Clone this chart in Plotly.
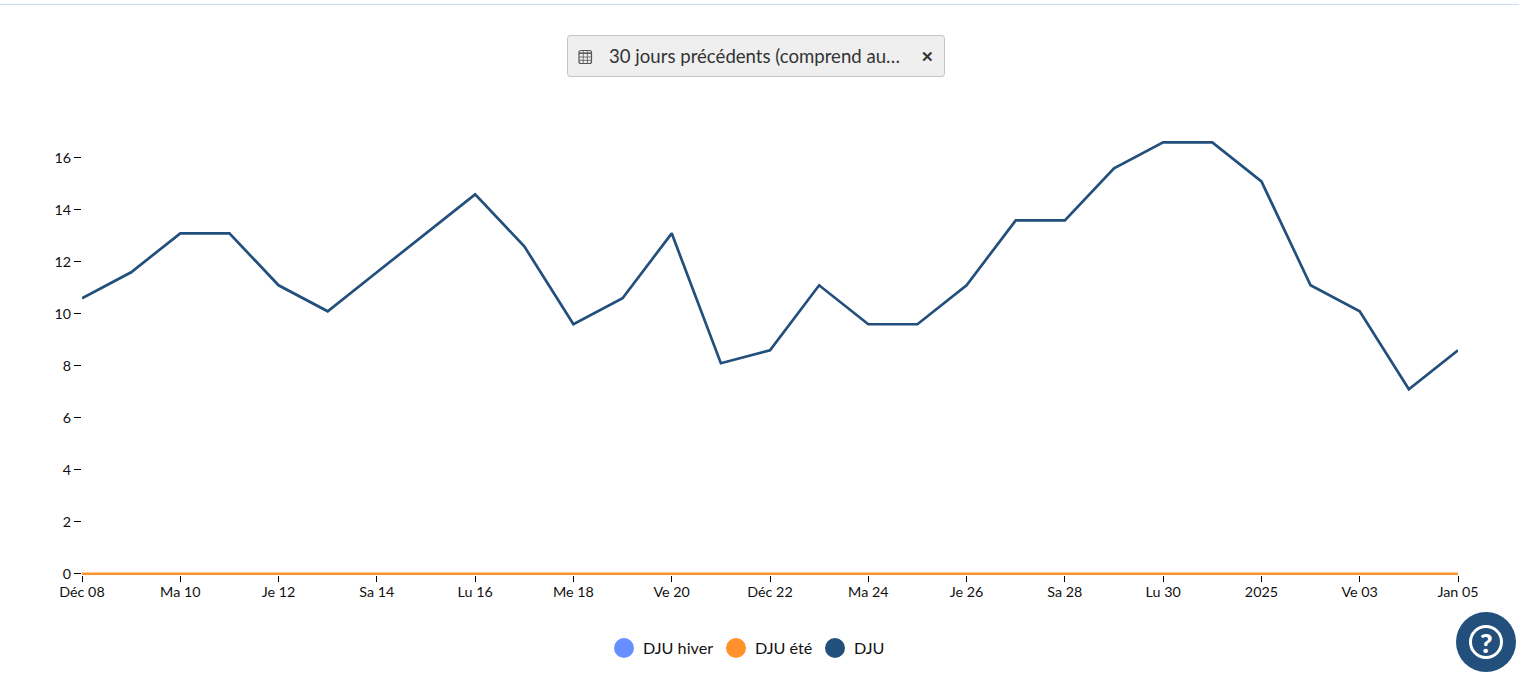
"""DJU chart over the previous 30 days."""

import plotly.graph_objects as go

WIDTH, HEIGHT = 1519, 697
FONT = "Lato, sans-serif"

dates = [
    "2024-12-08", "2024-12-09", "2024-12-10", "2024-12-11", "2024-12-12",
    "2024-12-13", "2024-12-14", "2024-12-15", "2024-12-16", "2024-12-17",
    "2024-12-18", "2024-12-19", "2024-12-20", "2024-12-21", "2024-12-22",
    "2024-12-23", "2024-12-24", "2024-12-25", "2024-12-26", "2024-12-27",
    "2024-12-28", "2024-12-29", "2024-12-30", "2024-12-31", "2025-01-01",
    "2025-01-02", "2025-01-03", "2025-01-04", "2025-01-05",
]
dju = [
    10.6, 11.6, 13.1, 13.1, 11.1, 10.1, 11.6, 13.1, 14.6, 12.6,
    9.6, 10.6, 13.1, 8.1, 8.6, 11.1, 9.6, 9.6, 11.1, 13.6,
    13.6, 15.6, 16.6, 16.6, 15.1, 11.1, 10.1, 7.1, 8.6,
]
dju_hiver = [0] * len(dates)
dju_ete = [0] * len(dates)

x_tick_vals = dates[::2]
x_tick_text = [
    "Déc 08", "Ma 10", "Je 12", "Sa 14", "Lu 16", "Me 18", "Ve 20", "Déc 22",
    "Ma 24", "Je 26", "Sa 28", "Lu 30", "2025", "Ve 03", "Jan 05",
]
y_tick_vals = [0, 2, 4, 6, 8, 10, 12, 14, 16]

blue = "#668fff"
orange = "#ff922b"
navy = "#224f7b"
text_color = "#111111"
icon_color = "#555555"

# plot area in window pixels; the y range starts just below 0 so the zero
# lines are not cut in half by the plot clip
PLOT_LEFT, PLOT_RIGHT = 82, 1458
PLOT_TOP, PLOT_BOTTOM = 132, 575
Y_MIN, Y_MAX = -0.05, 17


def px_x(x):
    """Window pixel to paper x."""
    return (x - PLOT_LEFT) / (PLOT_RIGHT - PLOT_LEFT)


def px_y(y):
    """Window pixel to paper y."""
    return (PLOT_BOTTOM - y) / (PLOT_BOTTOM - PLOT_TOP)


def px_shape(kind, x0, y0, x1, y1, **kw):
    return dict(type=kind, xref="paper", yref="paper", x0=px_x(x0), x1=px_x(x1),
                y0=px_y(y0), y1=px_y(y1), **kw)


def px_rounded(x0, y0, x1, y1, r, **kw):
    """Rounded rectangle as an svg path in paper coordinates."""
    pts = [
        ("M", x0 + r, y0), ("L", x1 - r, y0), ("Q", x1, y0, x1, y0 + r),
        ("L", x1, y1 - r), ("Q", x1, y1, x1 - r, y1), ("L", x0 + r, y1),
        ("Q", x0, y1, x0, y1 - r), ("L", x0, y0 + r), ("Q", x0, y0, x0 + r, y0),
    ]
    parts = []
    for p in pts:
        coords = [f"{px_x(p[i])},{px_y(p[i + 1])}" for i in range(1, len(p), 2)]
        parts.append(p[0] + " " + " ".join(coords))
    return dict(type="path", xref="paper", yref="paper", path=" ".join(parts) + " Z", **kw)


def px_text(x, y, text, size, color=text_color, anchor="left", weight=None):
    return dict(x=px_x(x), y=px_y(y), xref="paper", yref="paper", text=text,
                showarrow=False, xanchor=anchor, yanchor="middle",
                font=dict(size=size, color=color, family=FONT, weight=weight))


fig = go.Figure()
# hiver is thinner so it stays fully hidden under the orange line
fig.add_trace(go.Scatter(x=dates, y=dju_hiver, mode="lines", name="DJU hiver",
                         line=dict(color=blue, width=1.5), cliponaxis=False))
fig.add_trace(go.Scatter(x=dates, y=dju_ete, mode="lines", name="DJU été",
                         line=dict(color=orange, width=2.5), cliponaxis=False))
fig.add_trace(go.Scatter(x=dates, y=dju, mode="lines", name="DJU",
                         line=dict(color=navy, width=2.7), cliponaxis=False))

shapes = [
    # top rule of the page
    px_shape("line", 0, 4.5, 1519, 4.5, line=dict(color="#cfdbe6", width=1)),
    # period button
    px_rounded(567.5, 35.5, 944.5, 76.5, 3, fillcolor="#efefef",
               line=dict(color="#c4c4c4", width=1)),
    # calendar icon
    px_rounded(579, 50.5, 591.5, 63.5, 2, fillcolor="rgba(0,0,0,0)",
               line=dict(color=icon_color, width=1.2)),
    px_shape("line", 579, 53.2, 591.5, 53.2, line=dict(color=icon_color, width=1.5)),
    px_shape("line", 579, 57, 591.5, 57, line=dict(color=icon_color, width=0.8)),
    px_shape("line", 579, 60.3, 591.5, 60.3, line=dict(color=icon_color, width=0.8)),
    px_shape("line", 583.2, 50.5, 583.2, 63.5, line=dict(color=icon_color, width=0.8)),
    px_shape("line", 587.4, 50.5, 587.4, 63.5, line=dict(color=icon_color, width=0.8)),
    # legend dots
    px_shape("circle", 614, 638, 634, 658, fillcolor=blue, line=dict(width=0)),
    px_shape("circle", 726, 638, 746, 658, fillcolor=orange, line=dict(width=0)),
    px_shape("circle", 825, 638, 845, 658, fillcolor=navy, line=dict(width=0)),
    # help button
    px_shape("circle", 1456, 612, 1516, 672, fillcolor=navy, line=dict(width=0)),
    px_shape("circle", 1470.5, 626.5, 1501.5, 657.5, fillcolor="rgba(0,0,0,0)",
             line=dict(color="white", width=3)),
]

annotations = [
    px_text(606.5, 56, "30 jours précédents (comprend au…", 18.6, color="#333333"),
    px_text(927.5, 56.5, "✕", 15, color="#333333", anchor="center", weight="bold"),
    px_text(641, 647.7, "DJU hiver", 16.2),
    px_text(753, 647.7, "DJU été", 16.2),
    px_text(852, 647.7, "DJU", 16.2),
    px_text(1486, 642, "?", 27, color="white", anchor="center", weight=900),
]

fig.update_layout(
    width=WIDTH,
    height=HEIGHT,
    margin=dict(l=PLOT_LEFT, r=WIDTH - PLOT_RIGHT, t=PLOT_TOP, b=HEIGHT - PLOT_BOTTOM),
    paper_bgcolor="white",
    plot_bgcolor="white",
    font=dict(family=FONT, color=text_color, size=14),
    showlegend=False,
    xaxis=dict(
        type="date",
        range=[dates[0], dates[-1]],
        tickmode="array",
        tickvals=x_tick_vals,
        ticktext=x_tick_text,
        ticks="outside",
        ticklen=6,
        tickwidth=1,
        tickcolor="#000000",
        ticklabelstandoff=-2,
        showgrid=False,
        zeroline=False,
        showline=False,
        tickfont=dict(size=14.3, color=text_color, family=FONT),
    ),
    yaxis=dict(
        range=[Y_MIN, Y_MAX],
        tickmode="array",
        tickvals=y_tick_vals,
        ticks="outside",
        ticklen=7,
        tickwidth=1,
        tickcolor="#000000",
        showgrid=False,
        zeroline=False,
        showline=False,
        tickfont=dict(size=14.3, color=text_color, family=FONT),
    ),
    shapes=shapes,
    annotations=annotations,
)

fig.write_html("out.html", config={"displayModeBar": False},
               post_script="document.body.style.margin='0';")
